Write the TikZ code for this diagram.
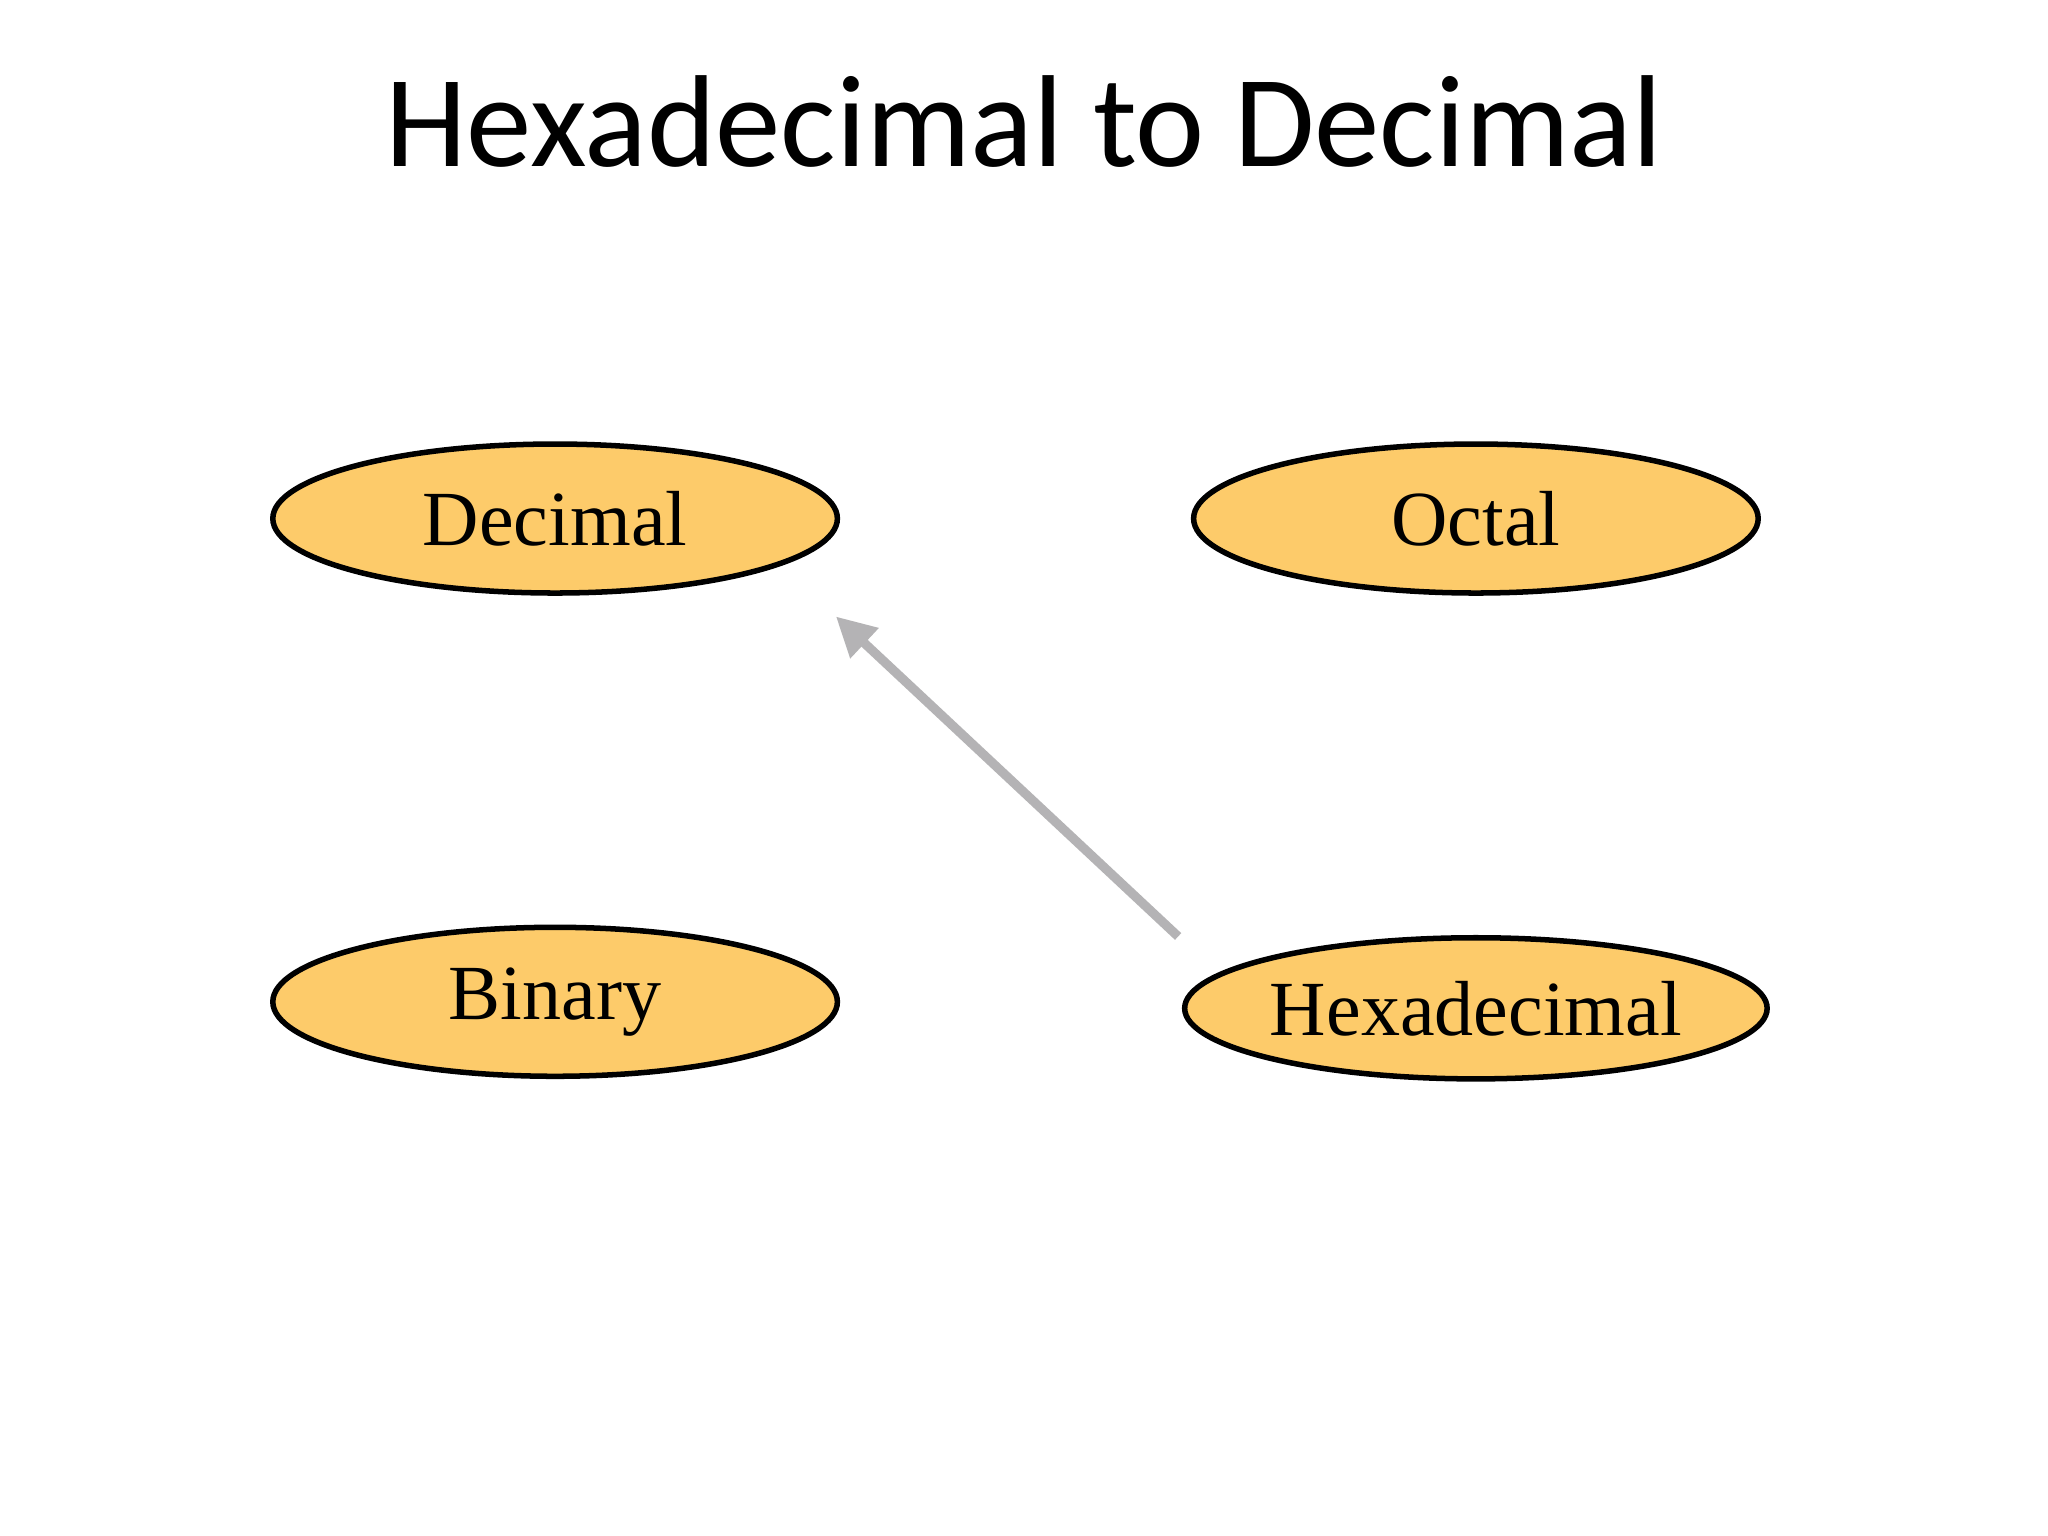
\documentclass[tikz,border=0pt]{standalone}
\usepackage{fontspec}
\setmainfont{Liberation Serif}
\newfontfamily\titlefont{Carlito}
\usetikzlibrary{shapes.geometric,arrows.meta}
\definecolor{nodefill}{HTML}{FDCB6A}
\definecolor{arrowgray}{HTML}{B4B3B5}
\tikzset{
  numsys/.style={ellipse,draw=black,line width=1.2pt,fill=nodefill,minimum width=4.32cm,minimum height=1.14cm,inner sep=0pt,font=\fontsize{17}{20}\selectfont},
  conv/.style={draw=arrowgray,line width=2pt,-{Triangle[length=0.3cm,width=0.3cm]}}
}
\begin{document}
\begin{tikzpicture}[x=0.01cm,y=-0.01cm]
\useasboundingbox[fill=white] (0,0) rectangle (1568,1176);
\node[font=\titlefont\fontsize{28.5}{32}\selectfont] (title) at (784,93) {Hexadecimal to Decimal};
\node[numsys] (dec) at (425,397) {Decimal};
\node[numsys] (oct) at (1130,397) {Octal};
\node[numsys] (bin) at (425,767) {Binary};
\node[numsys,minimum width=4.24cm,minimum height=1.08cm] (hex) at (1130,772) {Hexadecimal};
\coordinate (s) at (902,717);
\coordinate (t) at (640,472);
\draw[conv] (s) -- (t);
\end{tikzpicture}
\end{document}
